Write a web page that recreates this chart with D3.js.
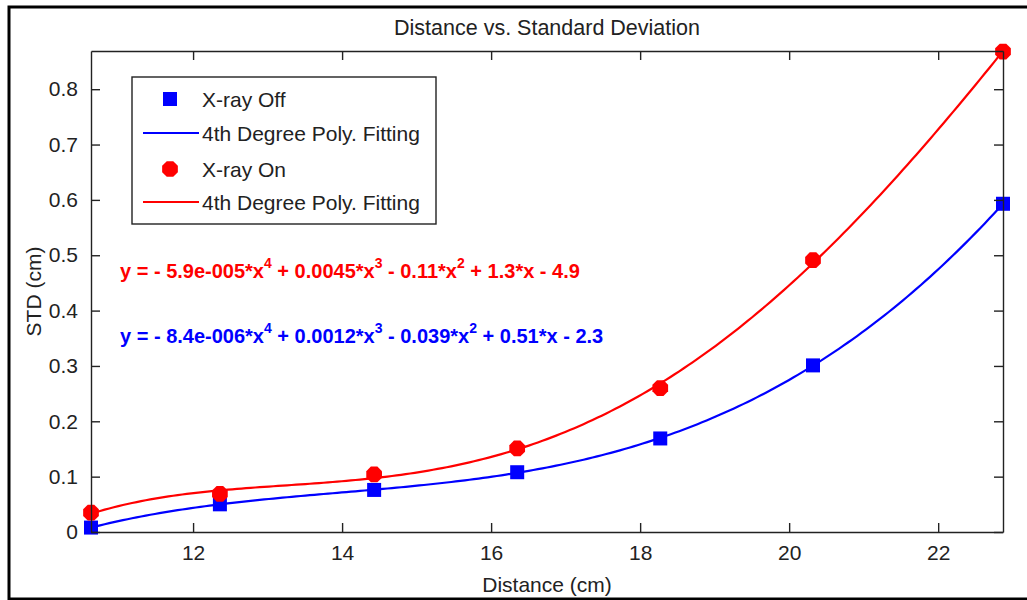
<!DOCTYPE html>
<html>
<head>
<meta charset="utf-8">
<script src="https://cdn.jsdelivr.net/npm/d3@7"></script>
<style>
  body { margin: 0; background: #fff; }
  text { font-family: "Liberation Sans", Arial, sans-serif; }
</style>
</head>
<body>
<div id="chart"></div>
<script>
// distances (cm)
var distance = [10.63, 12.36, 14.43, 16.35, 18.27, 20.32, 22.87];
// STD (cm)
var stdOff = [0.008, 0.050, 0.076, 0.108, 0.169, 0.301, 0.593];
var stdOn  = [0.035, 0.069, 0.104, 0.151, 0.260, 0.491, 0.868];
var xTicks = [12, 14, 16, 18, 20, 22];
var yTicks = [0, 0.1, 0.2, 0.3, 0.4, 0.5, 0.6, 0.7, 0.8];
var legendLabels = ["X-ray Off", "4th Degree Poly. Fitting", "X-ray On", "4th Degree Poly. Fitting"];
var eqOn  = ["y = - 5.9e-005*x", "4", " + 0.0045*x", "3", " - 0.11*x", "2", " + 1.3*x - 4.9"];
var eqOff = ["y = - 8.4e-006*x", "4", " + 0.0012*x", "3", " - 0.039*x", "2", " + 0.51*x - 2.3"];

var W = 1027, H = 600;
var margin = {top: 51, right: 24, bottom: 68, left: 91};
var width = W - margin.left - margin.right,
    height = H - margin.top - margin.bottom;

var svg = d3.select("#chart").append("svg")
    .attr("width", W).attr("height", H);

// outer figure border
svg.append("rect")
    .attr("x", 9).attr("y", 7).attr("width", 1030).attr("height", 592)
    .attr("fill", "none").attr("stroke", "#000").attr("stroke-width", 3);

var x = d3.scaleLinear().domain([10.63, 22.87]).range([0, width]);
var y = d3.scaleLinear().domain([0, 0.869]).range([height, 0]);

var g = svg.append("g")
    .attr("transform", "translate(" + margin.left + "," + margin.top + ")");

// least-squares polynomial fit (degree 4), x centred for stability
function polyFit(xs, ys, deg) {
    var mx = d3.mean(xs);
    var n = deg + 1;
    var A = [];
    for (var i = 0; i < n; i++) {
        A.push([]);
        for (var j = 0; j <= n; j++) A[i].push(0);
    }
    xs.forEach(function (xv, k) {
        var t = xv - mx;
        for (var i = 0; i < n; i++) {
            for (var j = 0; j < n; j++) A[i][j] += Math.pow(t, i + j);
            A[i][n] += ys[k] * Math.pow(t, i);
        }
    });
    for (var c = 0; c < n; c++) {
        var p = c;
        for (var r = c + 1; r < n; r++) if (Math.abs(A[r][c]) > Math.abs(A[p][c])) p = r;
        var tmp = A[c]; A[c] = A[p]; A[p] = tmp;
        for (var r2 = 0; r2 < n; r2++) {
            if (r2 === c) continue;
            var f = A[r2][c] / A[c][c];
            for (var j2 = c; j2 <= n; j2++) A[r2][j2] -= f * A[c][j2];
        }
    }
    var coef = A.map(function (row, i) { return row[n] / row[i]; });
    return function (xv) {
        var t = xv - mx, s = 0;
        for (var i = 0; i < n; i++) s += coef[i] * Math.pow(t, i);
        return s;
    };
}

var samples = d3.range(0, 201).map(function (i) {
    return x.domain()[0] + (x.domain()[1] - x.domain()[0]) * i / 200;
});

var line = d3.line()
    .x(function (d) { return x(d[0]); })
    .y(function (d) { return y(d[1]); });

var series = [
    {vals: stdOff, color: "#0000ff", shape: "square"},
    {vals: stdOn, color: "#ff0000", shape: "circle"}
];

series.forEach(function (s) {
    var fit = polyFit(distance, s.vals, 4);
    g.append("path")
        .datum(samples.map(function (d) { return [d, fit(d)]; }))
        .attr("d", line)
        .attr("fill", "none")
        .attr("stroke", s.color)
        .attr("stroke-width", 2.2);
});

// markers
function drawMarker(sel, shape, color, cx, cy) {
    if (shape === "square") {
        sel.append("rect")
            .attr("x", cx - 7).attr("y", cy - 7)
            .attr("width", 14).attr("height", 14)
            .attr("fill", color);
    } else {
        var pts = d3.range(8).map(function (k) {
            var a = Math.PI / 8 + k * Math.PI / 4;
            return [cx + 8.5 * Math.cos(a), cy + 8.5 * Math.sin(a)];
        });
        sel.append("polygon")
            .attr("points", pts.map(function (p) { return p.join(","); }).join(" "))
            .attr("fill", color);
    }
}

series.forEach(function (s) {
    var mg = g.append("g");
    distance.forEach(function (d, i) {
        drawMarker(mg, s.shape, s.color, x(d), y(s.vals[i]));
    });
});

// axes (ticks inward, mirrored on top and right)
var axisColor = "#222";
var xAxis = g.append("g")
    .attr("transform", "translate(0," + height + ")")
    .call(d3.axisBottom(x).tickValues(xTicks).tickSizeInner(-9).tickSizeOuter(0).tickPadding(13));
var xTop = g.append("g")
    .call(d3.axisTop(x).tickValues(xTicks).tickSizeInner(-9).tickSizeOuter(0).tickFormat(""));
var yAxis = g.append("g")
    .call(d3.axisLeft(y).tickValues(yTicks).tickSizeInner(-9).tickSizeOuter(0).tickPadding(13)
        .tickFormat(function (d) { return d === 0 ? "0" : d3.format(".1f")(d); }));
var yRight = g.append("g")
    .attr("transform", "translate(" + width + ",0)")
    .call(d3.axisRight(y).tickValues(yTicks).tickSizeInner(-9).tickSizeOuter(0).tickFormat(""));

[xAxis, xTop, yAxis, yRight].forEach(function (a) {
    a.select(".domain").attr("stroke", axisColor).attr("stroke-width", 1.4);
    a.selectAll(".tick line").attr("stroke", axisColor).attr("stroke-width", 1.4);
    a.selectAll(".tick text")
        .attr("fill", "#222")
        .style("font-family", "'Liberation Sans', Arial, sans-serif")
        .style("font-size", "21px");
});

// title and axis labels
svg.append("text")
    .attr("x", margin.left + width / 2).attr("y", 35)
    .attr("text-anchor", "middle")
    .style("font-size", "21.5px").attr("fill", "#222")
    .text("Distance vs. Standard Deviation");

svg.append("text")
    .attr("x", margin.left + width / 2).attr("y", 592)
    .attr("text-anchor", "middle")
    .style("font-size", "21px").attr("fill", "#222")
    .text("Distance (cm)");

svg.append("text")
    .attr("transform", "translate(41," + (margin.top + height / 2) + ") rotate(-90)")
    .attr("text-anchor", "middle")
    .style("font-size", "21px").attr("fill", "#222")
    .text("STD (cm)");

// legend
var lg = svg.append("g").attr("transform", "translate(132,77)");
lg.append("rect")
    .attr("width", 304).attr("height", 147)
    .attr("fill", "#fff").attr("stroke", "#222").attr("stroke-width", 1.4);

var rowY = [22, 56, 92, 125];
legendLabels.forEach(function (lab, i) {
    var color = i < 2 ? "#0000ff" : "#ff0000";
    if (i === 0) drawMarker(lg, "square", color, 38, rowY[i]);
    else if (i === 2) drawMarker(lg, "circle", color, 38, rowY[i]);
    else {
        lg.append("line")
            .attr("x1", 11).attr("x2", 67)
            .attr("y1", rowY[i]).attr("y2", rowY[i])
            .attr("stroke", color).attr("stroke-width", 2.2);
    }
    lg.append("text")
        .attr("x", 70).attr("y", rowY[i] + 7.5)
        .style("font-size", "21px").attr("fill", "#222")
        .text(lab);
});

// fit equations
function drawEq(parts, color, ty) {
    var t = svg.append("text")
        .attr("x", 120).attr("y", ty)
        .attr("fill", color)
        .style("font-size", "20px").style("font-weight", "bold");
    parts.forEach(function (p, i) {
        var sup = i % 2 === 1;
        t.append("tspan")
            .attr("dy", sup ? -10 : (i > 0 ? 10 : 0))
            .style("font-size", sup ? "14px" : "20px")
            .text(p);
    });
}
drawEq(eqOn, "#ff0000", 278);
drawEq(eqOff, "#0000ff", 343);
</script>
</body>
</html>
